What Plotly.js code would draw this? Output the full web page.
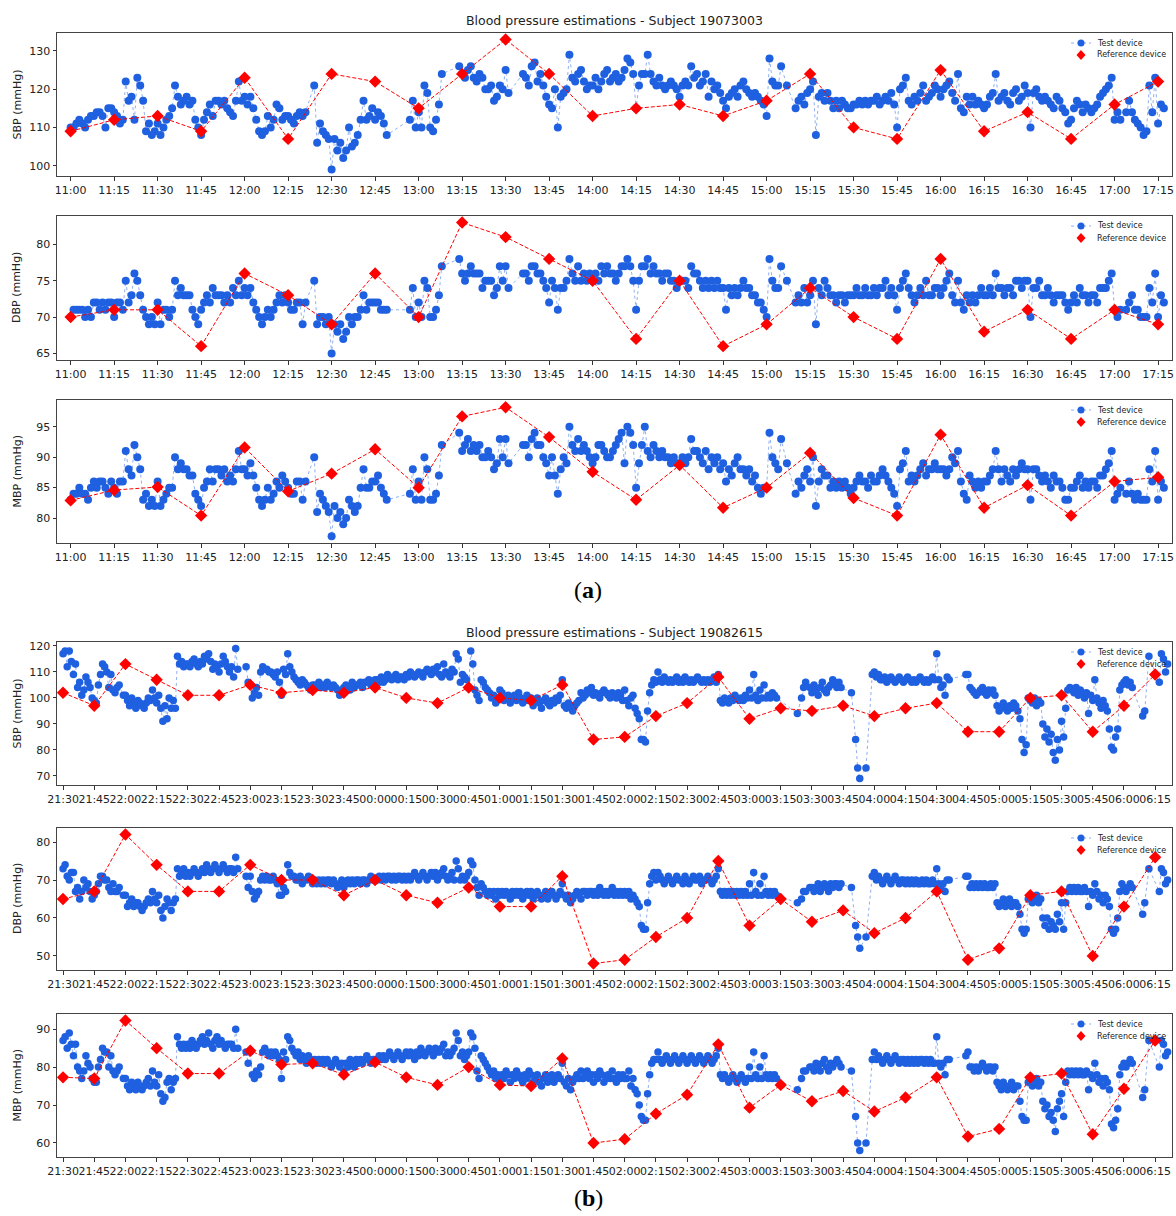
<!DOCTYPE html>
<html>
<head>
<meta charset="utf-8">
<script src="https://cdn.plot.ly/plotly-3.0.1.min.js"></script>
<style>
  html, body { margin: 0; padding: 0; background: #ffffff; }
  #chart { width: 1176px; height: 1216px; }
</style>
</head>
<body>
<div id="chart"></div>
<script>
// ---------------------------------------------------------------------------
// Subject 19073003 (panel a): test-device readings, one per minute from 11:00
// (null = no reading in that minute)
// ---------------------------------------------------------------------------
const sbpTestA = [
  110,110,111,112,111,110,112,113,113,114,114,113,110,115,115,
  114,113,111,112,122,117,118,112,123,121,117,109,111,108,109,
  111,108,110,112,113,115,121,118,116,117,118,116,117,112,110,
  108,112,114,116,113,117,117,116,117,115,114,113,117,122,117,
  118,116,118,115,112,109,108,109,113,110,112,116,115,112,113,
  113,112,111,113,114,113,114,null,null,121,106,111,109,108,107,
  99,107,104,106,102,104,110,105,106,108,112,117,112,113,115,
  112,114,113,111,108,null,null,null,null,null,null,null,112,117,110,
  114,110,121,119,110,109,112,116,124,null,null,null,null,null,126,
  124,123,125,126,123,122,124,123,120,120,121,117,118,121,120,
  125,119,null,null,null,null,124,123,121,126,127,122,124,121,118,
  116,115,120,110,118,119,120,129,123,122,124,125,122,120,121,
  121,123,120,122,124,125,122,123,124,122,123,125,128,127,124,
  115,121,124,124,129,124,122,121,123,121,120,121,122,121,120,
  118,121,122,121,126,123,124,121,122,124,118,122,120,121,119,
  117,115,118,119,120,118,121,122,120,119,118,119,118,117,116,
  113,128,122,121,121,126,null,121,null,null,115,117,118,116,119,
  120,122,108,118,119,117,119,117,115,117,115,117,116,115,115,
  116,116,117,116,117,116,117,117,118,116,117,118,117,119,116,
  110,120,121,123,117,116,118,117,119,121,117,118,119,121,120,
  118,120,121,122,119,117,124,115,114,118,116,118,116,117,116,
  115,116,118,119,124,117,118,119,117,116,119,120,117,118,121,
  119,110,119,120,118,117,118,117,116,115,118,117,115,114,111,
  112,115,117,116,114,116,115,114,115,116,118,119,120,121,123,
  112,114,112,null,114,117,114,112,111,110,108,109,121,114,123,
  111,116,115
];
const dbpTestA = [
  70,71,71,71,71,70,71,70,72,72,71,72,71,72,72,
  70,72,72,71,75,72,73,76,75,73,71,70,69,70,69,
  72,69,71,71,70,71,75,73,74,73,73,73,71,70,69,
  71,72,73,72,74,73,73,73,72,73,72,74,73,75,73,
  74,73,74,72,71,70,69,70,71,70,71,72,73,72,73,
  72,71,71,72,72,69,72,null,null,75,69,70,70,69,70,
  65,69,68,69,67,68,70,69,70,70,71,73,71,72,72,
  72,72,71,71,71,null,null,null,null,null,null,null,71,74,70,
  72,70,75,74,70,70,71,73,77,null,null,null,null,null,78,
  76,75,76,77,76,76,76,74,75,75,75,73,74,77,75,
  77,74,null,null,null,null,76,76,75,77,77,76,76,75,74,
  72,75,74,71,74,74,75,78,76,75,77,75,76,75,76,
  75,76,75,77,76,77,76,76,75,76,77,77,78,77,75,
  71,75,77,77,78,76,77,76,76,75,76,76,75,75,74,
  75,75,75,74,77,76,76,75,74,75,74,75,74,75,74,
  74,71,74,73,74,73,74,75,74,74,73,73,72,72,71,
  70,78,75,74,74,77,null,75,null,null,72,73,72,74,72,
  73,75,69,74,73,75,74,73,73,72,73,73,72,73,73,
  73,74,73,73,74,73,73,74,73,74,74,75,73,74,73,
  71,74,75,76,74,73,72,73,74,73,75,73,73,74,74,
  73,74,75,76,73,72,75,72,71,73,72,73,72,73,74,
  73,73,74,73,76,74,74,73,74,74,73,75,75,74,75,
  75,70,74,74,75,73,73,74,73,72,73,73,73,72,71,
  72,73,72,74,73,73,72,73,73,72,74,74,74,75,76,
  71,70,71,null,71,72,73,71,71,70,70,70,74,72,76,
  70,73,72
];
const mbpTestA = [
  83,84,84,85,84,84,83,85,86,85,86,86,85,84,86,
  85,84,86,86,91,88,87,92,90,88,83,84,82,83,82,
  86,82,83,84,85,85,90,88,89,88,88,87,87,84,83,
  82,85,86,88,86,88,88,87,88,86,87,86,88,91,88,
  88,87,89,87,85,83,82,83,85,83,84,86,85,87,86,
  85,84,84,86,86,83,86,null,null,90,81,84,83,82,81,
  77,82,80,81,79,80,83,82,81,82,85,88,85,85,86,
  86,87,85,84,83,null,null,null,null,null,null,null,84,88,83,
  86,83,90,88,83,83,84,87,92,null,null,null,null,null,94,
  91,92,93,91,92,91,92,90,90,91,90,88,89,93,90,
  93,89,null,null,null,null,92,92,90,93,94,92,92,90,89,
  87,90,87,84,88,90,89,95,92,91,93,91,92,91,90,
  89,90,92,92,91,90,90,91,92,93,94,89,95,94,92,
  85,89,92,95,91,90,92,91,90,91,90,90,89,90,89,
  89,90,89,90,93,91,91,90,89,91,88,90,89,90,88,
  89,86,88,87,89,90,88,88,87,88,86,87,85,84,85,
  85,94,90,89,88,93,null,89,null,null,84,86,85,87,88,
  86,90,82,86,88,87,87,85,86,85,86,85,86,85,84,
  85,86,87,86,86,85,87,86,86,87,88,87,86,85,84,
  82,88,89,91,86,87,86,87,88,89,87,88,88,89,88,
  88,88,87,88,90,89,91,86,84,83,87,86,85,86,85,
  86,86,87,88,91,88,86,88,87,86,88,87,88,89,88,
  88,83,88,88,87,86,87,86,85,87,86,86,85,83,83,
  85,85,86,87,85,86,85,86,86,85,87,87,88,89,91,
  83,84,85,null,84,86,84,83,84,83,83,83,88,86,91,
  83,86,85
];

// Reference (cuff) device readings, panel a
const refTimesA = ['11:00','11:15','11:30','11:45','12:00','12:15','12:30','12:45','13:00',
  '13:15','13:30','13:45','14:00','14:15','14:30','14:45','15:00','15:15','15:30','15:45',
  '16:00','16:15','16:30','16:45','17:00','17:15'];
const sbpRefA = [109,112,113,109,123,107,124,122,115,124,133,124,113,115,116,113,117,124,110,107,125,109,114,107,116,122];
const dbpRefA = [70,71,71,66,76,73,69,76,70,83,81,78,75,67,75,66,69,74,70,67,78,68,71,67,71,69];
const mbpRefA = [82.9,84.6,85.1,80.4,91.6,84.4,87.3,91.3,85,96.7,98.2,93.3,87.6,83,88.7,81.7,85,90.7,83.3,80.4,93.7,81.7,85.4,80.4,86,86.7];

const tickLabelsA = ['11:00','11:15','11:30','11:45','12:00','12:15','12:30','12:45','13:00',
  '13:15','13:30','13:45','14:00','14:15','14:30','14:45','15:00','15:15','15:30','15:45',
  '16:00','16:15','16:30','16:45','17:00','17:15'];

// ---------------------------------------------------------------------------
// Subject 19082615 (panel b): test-device readings, one per minute from 21:30
// ---------------------------------------------------------------------------
const sbpTestB = [
  117,118,112,118,114,109,113,104,106,101,103,108,106,104,100,
  99,98,105,109,113,112,110,104,109,103,102,104,105,null,101,
  101,99,97,100,98,96,99,98,97,96,98,100,99,103,100,
  98,101,96,91,97,92,100,96,99,96,116,113,114,112,113,
  113,112,114,115,113,112,114,113,116,115,117,114,111,113,112,
  110,113,116,114,112,110,112,108,119,111,null,null,null,112,106,
  105,100,102,104,101,110,112,111,111,110,110,109,108,110,106,
  101,111,109,117,112,110,108,107,106,105,107,106,105,104,103,
  105,105,104,106,104,105,104,106,105,104,105,104,103,101,103,
  104,105,104,103,106,104,105,105,106,104,106,106,107,105,106,
  107,107,106,108,106,107,109,108,107,108,109,107,108,108,107,
  109,108,110,109,108,109,110,109,108,110,111,110,109,111,110,
  112,109,108,113,110,109,108,111,110,117,115,106,109,108,107,
  104,118,113,103,101,99,107,106,104,103,102,100,101,98,100,
  103,102,99,100,101,98,100,101,99,102,100,98,99,101,99,
  100,97,99,100,98,96,99,100,98,97,99,98,100,99,101,
  107,97,96,98,97,95,97,98,99,102,100,101,103,102,104,
  101,102,101,100,102,103,102,101,100,102,101,100,102,101,99,
  103,99,97,100,101,96,94,92,84,84,83,95,102,105,107,
  106,110,107,106,108,107,106,107,106,107,108,106,107,106,108,
  107,106,107,106,107,108,107,106,107,106,107,106,107,108,106,
  109,99,98,100,99,98,100,99,101,100,99,100,99,101,100,
  103,100,109,101,99,103,100,105,100,101,100,102,101,100,null,
  null,null,null,null,null,null,null,null,94,null,100,104,106,null,104,
  102,105,103,101,104,106,103,102,104,105,107,106,104,106,104,
  null,null,null,null,102,null,84,73,69,null,null,73,null,null,109,
  110,108,109,107,107,108,106,107,108,107,106,107,108,107,106,
  107,108,107,106,107,106,107,108,107,106,107,106,107,108,107,
  117,107,104,105,101,108,107,null,null,null,null,null,null,null,109,
  109,104,103,102,101,102,103,104,102,101,103,102,103,101,97,
  95,96,98,96,95,97,96,98,97,95,92,84,79,82,100,
  99,98,100,97,99,98,90,85,88,83,86,79,76,84,80,
  91,85,96,103,104,103,102,104,101,103,102,100,102,94,101,
  99,107,100,98,96,99,97,95,88,81,80,85,88,103,105,
  106,107,105,106,104,null,null,null,null,93,95,null,116,null,null,
  null,null,106,117,115,110,113
];
const dbpTestB = [
  73,74,71,70,72,72,67,68,65,67,70,68,69,67,65,
  66,67,69,71,71,70,70,68,67,69,67,67,68,null,66,
  66,63,64,65,63,64,64,63,62,63,64,65,64,67,65,
  64,66,62,60,63,65,64,62,64,65,73,71,72,73,71,
  72,71,72,73,72,71,72,73,72,74,73,72,73,74,73,
  72,73,74,73,72,73,73,72,76,73,null,null,null,71,68,
  71,67,65,66,67,70,71,70,71,70,70,71,70,69,66,
  66,68,67,74,72,71,71,70,70,71,69,70,70,71,70,
  69,70,69,70,69,70,69,70,70,69,70,69,68,69,70,
  68,69,70,69,70,69,70,70,69,70,70,69,70,71,70,
  70,70,71,70,71,70,71,71,70,71,70,71,71,70,71,
  70,71,70,71,72,71,70,71,72,71,70,71,72,71,72,
  70,71,72,73,71,70,71,72,70,75,73,70,71,70,71,
  72,75,74,70,68,66,69,68,67,66,67,66,67,65,67,
  66,67,66,67,66,65,67,66,67,66,67,65,66,67,66,
  67,65,66,67,66,65,66,67,65,66,67,66,65,66,67,
  69,66,65,66,64,65,66,67,66,65,67,67,66,67,67,
  66,67,66,68,67,66,67,66,67,68,66,67,66,67,66,
  67,66,67,65,66,65,64,63,58,57,57,64,69,71,72,
  70,72,71,70,69,70,71,70,69,70,71,70,70,69,71,
  70,69,70,71,70,70,71,69,70,70,71,70,69,70,71,
  73,67,66,67,66,67,66,67,66,67,66,67,66,67,66,
  69,66,72,67,66,69,66,71,67,66,67,66,67,66,null,
  null,null,null,null,null,null,null,null,64,null,65,67,67,null,68,
  68,67,68,69,67,68,69,68,67,69,68,69,69,68,69,
  null,null,null,null,68,null,58,55,52,null,null,55,null,null,71,
  72,70,71,70,69,70,71,70,69,70,71,70,69,70,70,
  69,70,69,70,69,70,69,69,70,69,70,69,69,70,69,
  73,69,68,69,67,70,70,null,null,null,null,null,null,null,71,
  71,68,69,68,69,68,69,68,69,68,68,69,68,69,64,
  63,64,65,63,64,65,63,64,64,63,61,57,56,57,65,
  66,64,65,66,64,65,60,58,60,57,59,58,57,61,59,
  64,57,64,67,68,67,68,67,68,67,67,68,67,63,67,
  66,69,67,65,66,64,66,65,63,57,56,57,60,67,69,
  68,67,68,69,68,null,null,null,null,61,64,null,73,null,null,
  null,null,67,73,72,69,70
];
const mbpTestB = [
  87,88,85,89,86,83,86,80,79,77,79,83,81,80,77,
  76,76,80,82,85,84,84,80,83,79,78,79,80,null,77,
  77,75,74,76,75,74,76,75,74,75,76,77,75,79,76,
  75,78,73,71,72,76,77,74,76,77,88,86,85,86,85,
  86,85,87,86,85,86,87,88,86,87,89,86,85,87,88,
  86,87,86,85,86,86,86,85,90,85,null,null,null,84,81,
  84,78,77,79,78,80,84,85,84,83,84,83,84,83,82,
  77,84,82,88,87,85,84,83,84,82,83,82,81,83,82,
  81,82,81,82,81,82,81,82,81,80,81,82,81,80,81,
  79,81,80,82,81,80,82,81,82,81,82,83,82,81,82,
  82,82,83,82,83,82,83,84,83,82,83,84,83,82,83,
  84,83,84,83,82,84,83,85,84,83,84,85,84,83,85,
  84,84,85,86,83,84,83,84,85,89,87,83,84,82,83,
  84,89,88,85,79,77,83,82,81,80,79,78,79,77,78,
  77,78,77,79,78,76,78,77,79,78,77,76,78,77,79,
  78,76,77,78,76,75,77,78,76,77,78,76,77,78,77,
  81,76,75,77,74,76,77,78,77,79,77,78,79,77,78,
  76,78,77,79,78,76,77,78,77,79,77,76,78,77,78,
  77,77,79,75,77,74,73,70,67,66,66,73,78,81,82,
  82,84,82,81,82,83,82,81,82,83,82,81,82,83,82,
  81,82,83,82,81,82,83,82,81,82,83,82,81,82,83,
  85,78,77,78,77,76,77,78,77,76,77,78,77,76,77,
  80,77,84,78,77,80,77,83,78,77,78,77,78,77,null,
  null,null,null,null,null,null,null,null,74,null,77,79,79,null,80,
  80,79,81,80,79,81,82,80,79,81,80,81,82,81,80,
  null,null,null,null,79,null,67,60,58,null,null,60,null,null,82,
  84,82,83,82,81,82,83,82,81,82,83,82,81,82,82,
  81,82,81,82,81,82,81,82,82,81,82,81,82,81,81,
  88,81,80,81,78,82,82,null,null,null,null,null,null,null,83,
  84,80,80,79,80,79,80,81,80,79,80,80,79,80,76,
  75,74,76,75,74,75,76,74,75,75,71,67,66,66,76,
  77,75,76,77,75,76,71,69,70,67,68,66,63,69,71,
  73,67,76,79,78,79,78,79,78,79,78,78,79,74,78,
  77,81,78,76,77,75,77,76,74,65,64,66,69,78,80,
  81,80,81,82,81,null,null,null,null,72,74,null,87,null,null,
  null,null,80,87,86,83,84
];

// Reference (cuff) device readings, panel b
const refTimesB = ['21:30','21:45','22:00','22:15','22:30','22:45','23:00','23:15','23:30','23:45',
  '00:00','00:15','00:30','00:45','01:00','01:15','01:30','01:45','02:00','02:15',
  '02:30','02:45','03:00','03:15','03:30','03:45','04:00','04:15','04:30','04:45',
  '05:00','05:15','05:30','05:45','06:00','06:15'];
const sbpRefB = [102,97,113,107,101,101,105,102,103,102,104,100,98,104,100,99,105,84,85,93,98,108,92,96,95,97,93,96,98,87,87,100,101,87,97,109];
const dbpRefB = [65,67,82,74,67,67,74,70,70,66,70,66,64,68,63,63,71,48,49,55,60,75,58,65,59,62,56,60,67,49,52,66,67,50,63,76];
const mbpRefB = [77.3,77,92.3,85,78.3,78.3,84.3,80.7,81,78,81.3,77.3,75.3,80,75.3,75,82.3,60,61,67.7,72.7,86,69.3,75.3,71,73.7,68.3,72,77.3,61.7,63.7,77.3,78.3,62.3,74.3,87];

const tickLabelsB = ['21:30','21:45','22:00','22:15','22:30','22:45','23:00','23:15','23:30','23:45',
  '00:00','00:15','00:30','00:45','01:00','01:15','01:30','01:45','02:00','02:15',
  '02:30','02:45','03:00','03:15','03:30','03:45','04:00','04:15','04:30','04:45',
  '05:00','05:15','05:30','05:45','06:00','06:15'];

// ---------------------------------------------------------------------------
// Layout helpers
// ---------------------------------------------------------------------------
const W = 1176, H = 1216;
const SAMPLE_STEP_MIN = 1;           // test device: one reading per minute
const PLOT_LEFT = 57, PLOT_RIGHT = 1172;
const FONT = 'DejaVu Sans, Verdana, sans-serif';
const TEXT = '#222222';
const BLUE = '#1f60e0';
const BLUE_LINE = 'rgba(31,96,224,0.5)';
const RED = '#ff0000';

const fx = p => p / W;          // pixel -> paper x
const fy = p => 1 - p / H;      // pixel -> paper y

function clockToMinutes(label, start) {
  const [h, m] = label.split(':').map(Number);
  const [sh, sm] = start.split(':').map(Number);
  let d = (h * 60 + m) - (sh * 60 + sm);
  if (d < 0) d += 1440;
  return d;
}

const panels = [
  {
    title: 'Blood pressure estimations - Subject 19073003',
    titleY: 20, tag: 'a', tagY: 590, dot: 8,
    start: '11:00', ticks: tickLabelsA, refTimes: refTimesA, xRange: [-4.7, 379.8],
    rows: [
      { label: 'SBP (mmHg)', test: sbpTestA, ref: sbpRefA, range: [97.3, 134.7], dtick: 10, box: [33, 176] },
      { label: 'DBP (mmHg)', test: dbpTestA, ref: dbpRefA, range: [64.1, 83.9], dtick: 5, box: [216, 360] },
      { label: 'MBP (mmHg)', test: mbpTestA, ref: mbpRefA, range: [75.9, 99.4], dtick: 5, box: [400, 543] }
    ]
  },
  {
    title: 'Blood pressure estimations - Subject 19082615',
    titleY: 632, tag: 'b', tagY: 1198, dot: 7.5,
    start: '21:30', ticks: tickLabelsB, refTimes: refTimesB, xRange: [-2.9, 533.1],
    rows: [
      { label: 'SBP (mmHg)', test: sbpTestB, ref: sbpRefB, range: [66.5, 121.5], dtick: 10, box: [642, 785] },
      { label: 'DBP (mmHg)', test: dbpTestB, ref: dbpRefB, range: [46.3, 83.7], dtick: 10, box: [828, 970] },
      { label: 'MBP (mmHg)', test: mbpTestB, ref: mbpRefB, range: [56.3, 94.0], dtick: 10, box: [1014, 1157] }
    ]
  }
];

const traces = [];
const layout = {
  width: W, height: H,
  margin: { l: 0, r: 0, t: 0, b: 0, pad: 0 },
  paper_bgcolor: '#ffffff', plot_bgcolor: '#ffffff',
  showlegend: false,
  font: { family: FONT, color: TEXT, size: 11 },
  annotations: [], shapes: []
};

let k = 0;
panels.forEach(panel => {
  const tickvals = panel.ticks.map(t => clockToMinutes(t, panel.start));
  const refX = panel.refTimes.map(t => clockToMinutes(t, panel.start));

  panel.rows.forEach(row => {
    k += 1;
    const sx = k === 1 ? '' : String(k);
    const xa = 'x' + sx, ya = 'y' + sx;

    traces.push({
      type: 'scatter', mode: 'lines+markers', name: 'Test device',
      x: row.test.map((_, i) => i * SAMPLE_STEP_MIN), y: row.test,
      connectgaps: true,
      xaxis: xa, yaxis: ya,
      marker: { color: BLUE, size: panel.dot, line: { width: 0 } },
      line: { color: BLUE_LINE, width: 1, dash: 'dot' }
    });
    traces.push({
      type: 'scatter', mode: 'lines+markers', name: 'Reference device',
      x: refX, y: row.ref,
      xaxis: xa, yaxis: ya,
      marker: { color: RED, size: 9.5, symbol: 'diamond', line: { width: 0 } },
      line: { color: RED, width: 1, dash: '4px,2px' }
    });

    const [top, bottom] = row.box;
    layout['xaxis' + sx] = {
      domain: [fx(PLOT_LEFT), fx(PLOT_RIGHT)], anchor: ya,
      range: panel.xRange, tickmode: 'array', tickvals: tickvals, ticktext: panel.ticks,
      tickangle: 0, ticks: 'outside', ticklen: 3.5, tickwidth: 1, tickcolor: '#333',
      showline: true, mirror: true, linecolor: '#444', linewidth: 1,
      showgrid: false, zeroline: false,
      tickfont: { family: FONT, size: 11, color: TEXT }
    };
    layout['yaxis' + sx] = {
      domain: [fy(bottom), fy(top)], anchor: xa,
      range: row.range, dtick: row.dtick, tick0: 0,
      ticks: 'outside', ticklen: 3.5, tickwidth: 1, tickcolor: '#333',
      showline: true, mirror: true, linecolor: '#444', linewidth: 1,
      showgrid: false, zeroline: false,
      tickfont: { family: FONT, size: 11, color: TEXT }
    };

    // y-axis title
    layout.annotations.push({
      text: row.label, xref: 'paper', yref: 'paper',
      x: fx(17), y: fy((top + bottom) / 2), textangle: -90,
      xanchor: 'center', yanchor: 'middle', showarrow: false,
      font: { family: FONT, size: 11, color: TEXT }
    });

    // legend in the upper-right corner of each subplot
    const lx = PLOT_RIGHT - 91, ly1 = top + 10, ly2 = top + 22;
    layout.shapes.push({
      type: 'line', xref: 'paper', yref: 'paper',
      x0: fx(lx - 10), x1: fx(lx + 10), y0: fy(ly1), y1: fy(ly1),
      line: { color: BLUE_LINE, width: 1, dash: 'dot' }
    });
    layout.shapes.push({
      type: 'circle', xref: 'paper', yref: 'paper',
      x0: fx(lx - 3.5), x1: fx(lx + 3.5), y0: fy(ly1 + 3.5), y1: fy(ly1 - 3.5),
      fillcolor: BLUE, line: { width: 0 }
    });
    layout.shapes.push({
      type: 'path', xref: 'paper', yref: 'paper',
      path: `M ${fx(lx)},${fy(ly2 - 5)} L ${fx(lx + 4.5)},${fy(ly2)} L ${fx(lx)},${fy(ly2 + 5)} L ${fx(lx - 4.5)},${fy(ly2)} Z`,
      fillcolor: RED, line: { width: 0 }
    });
    [['Test device', ly1], ['Reference device', ly2]].forEach(([txt, yy]) => {
      layout.annotations.push({
        text: txt, xref: 'paper', yref: 'paper', x: fx(PLOT_RIGHT - 77), y: fy(yy),
        xanchor: 'left', yanchor: 'middle', showarrow: false,
        font: { family: FONT, size: 8, color: TEXT }
      });
    });
  });

  // panel title and tag
  layout.annotations.push({
    text: panel.title, xref: 'paper', yref: 'paper',
    x: fx((PLOT_LEFT + PLOT_RIGHT) / 2), y: fy(panel.titleY),
    xanchor: 'center', yanchor: 'middle', showarrow: false,
    font: { family: FONT, size: 12.5, color: TEXT }
  });
  layout.annotations.push({
    text: '(<b>' + panel.tag + '</b>)', xref: 'paper', yref: 'paper',
    x: fx(588), y: fy(panel.tagY), xanchor: 'center', yanchor: 'middle', showarrow: false,
    font: { family: 'Liberation Serif, DejaVu Serif, serif', size: 24, color: '#000' }
  });
});

Plotly.newPlot('chart', traces, layout, { displayModeBar: false, staticPlot: true });
</script>
</body>
</html>
